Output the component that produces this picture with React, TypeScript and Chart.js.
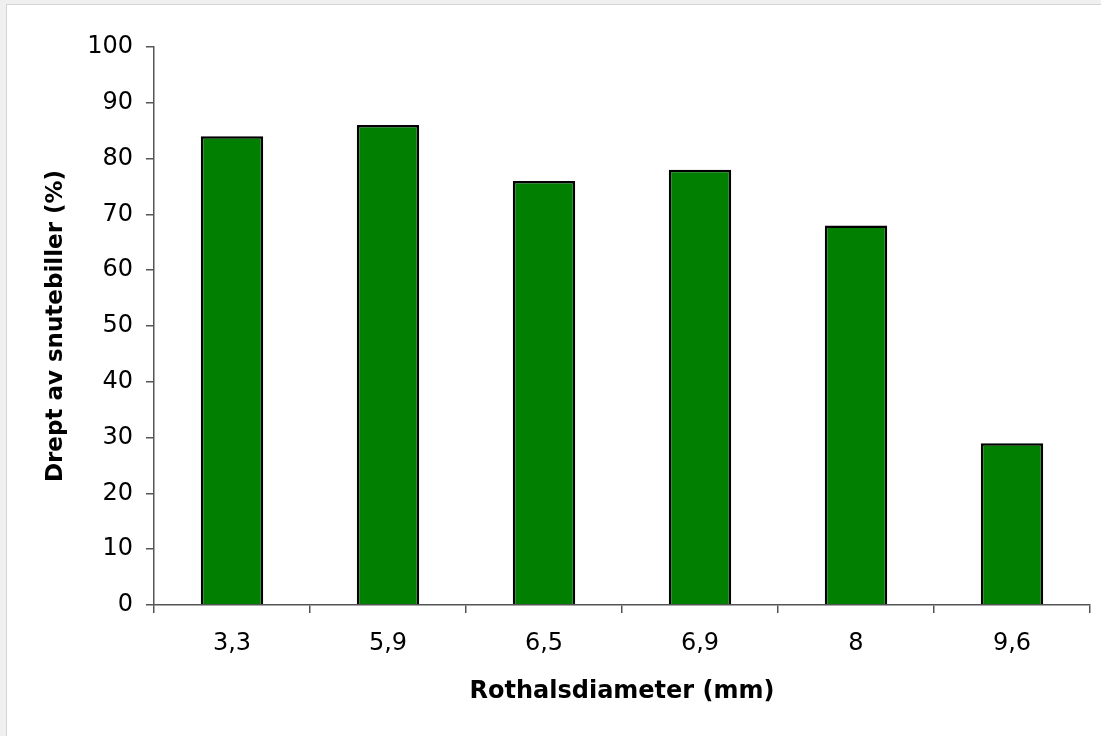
import React, { useEffect, useRef } from "react";
import { Chart, registerables } from "chart.js";

Chart.register(...registerables);

const categories = ["3,3", "5,9", "6,5", "6,9", "8", "9,6"];
const killedPercent = [84, 86, 76, 78, 68, 29];
const yTickMin = 0;
const yTickMax = 100;
const yTickStep = 10;
const xTitle = "Rothalsdiameter (mm)";
const yTitle = "Drept av snutebiller (%)";

const FONT = "'DejaVu Sans', 'Liberation Sans', Arial, sans-serif";

export default function App() {
  const ref = useRef<HTMLCanvasElement | null>(null);

  useEffect(() => {
    document.body.style.margin = "0";
    const canvas = ref.current;
    if (!canvas) return;
    const chart = new Chart(canvas, {
      type: "bar",
      data: {
        labels: categories,
        datasets: [
          {
            data: killedPercent,
            backgroundColor: "#007f00",
            borderColor: "#000000",
            borderWidth: 2.5,
            categoryPercentage: 1,
            barPercentage: 0.4,
          },
        ],
      },
      options: {
        animation: false,
        responsive: false,
        devicePixelRatio: 1,
        layout: { padding: { top: 42, right: 11, left: 0, bottom: 0 } },
        plugins: {
          legend: { display: false },
          tooltip: { enabled: false },
        },
        scales: {
          x: {
            grid: {
              drawOnChartArea: false,
              drawTicks: true,
              tickLength: 8,
              color: "#555555",
              lineWidth: 1.5,
              offset: true,
            },
            border: { color: "#555555", width: 1.5 },
            ticks: {
              color: "#000",
              font: { family: FONT, size: 24 },
              padding: 16,
              maxRotation: 0,
            },
            title: {
              display: true,
              text: xTitle,
              color: "#000",
              font: { family: FONT, size: 24, weight: "bold" },
              padding: { top: 0, bottom: 30 },
            },
            afterFit: (scale: any) => {
              scale.height = 131;
            },
          },
          y: {
            min: yTickMin,
            max: yTickMax,
            grid: {
              drawOnChartArea: false,
              drawTicks: true,
              tickLength: 8,
              color: "#555555",
              lineWidth: 1.5,
            },
            border: { color: "#555555", width: 1.5 },
            ticks: {
              stepSize: yTickStep,
              color: "#000",
              font: { family: FONT, size: 24 },
              padding: 13,
            },
            title: {
              display: true,
              text: yTitle,
              color: "#000",
              font: { family: FONT, size: 23, weight: "bold" },
              padding: { top: 35, bottom: 0 },
            },
            afterFit: (scale: any) => {
              scale.width = 147;
            },
          },
        },
      },
    });
    return () => chart.destroy();
  }, []);

  return (
    <div
      style={{
        position: "fixed",
        left: 0,
        top: 0,
        width: 1101,
        height: 736,
        background: "#f0f0f0",
        overflow: "hidden",
      }}
    >
      <div
        style={{
          position: "absolute",
          left: 6,
          top: 4,
          width: 1095,
          height: 732,
          background: "#ffffff",
          borderLeft: "1px solid #d4d4d4",
          borderTop: "1px solid #d4d4d4",
        }}
      >
        <canvas
          ref={ref}
          width={1094}
          height={731}
          style={{ display: "block" }}
        />
      </div>
    </div>
  );
}
